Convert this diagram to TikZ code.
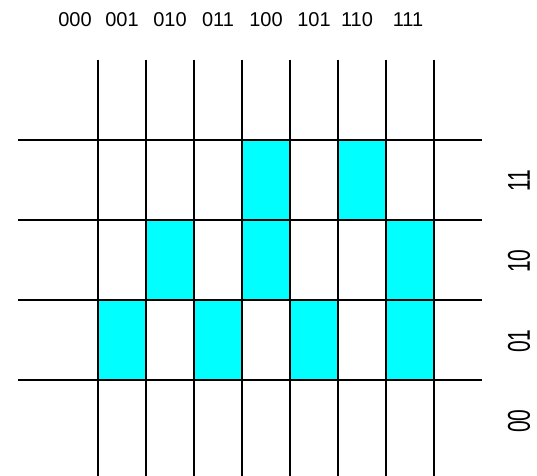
\documentclass[tikz,border=0pt]{standalone}
\usepackage{fontspec}
\setmainfont{Liberation Sans}
\definecolor{kcyan}{RGB}{0,255,255}
\tikzset{
  gridline/.style={draw=black,line width=0.75pt},
  oncell/.style={fill=kcyan},
  collbl/.style={font=\fontsize{10}{12}\selectfont,anchor=base,inner sep=0pt},
  rowlbl/.style={font=\fontsize{10.5}{12}\selectfont,rotate=90,yscale=1.5,inner sep=0pt},
}
\begin{document}
\begin{tikzpicture}[x=0.5pt,y=-0.5pt]
\useasboundingbox (0,0) rectangle (537,476);
% cells set to 1
\foreach \cx/\cy in {98/300,194/300,290/300,386/300,146/220,242/220,386/220,242/140,338/140}
  \fill[oncell] (\cx,\cy) rectangle ++(48,80);
% grid
\foreach \gx in {98,146,...,434}
  \draw[gridline] (\gx,60) -- (\gx,476);
\foreach \gy in {140,220,300,380}
  \draw[gridline] (18,\gy) -- (482,\gy);
% column labels
\foreach \lbl/\lx in {000/75,001/122,010/170,011/218,100/266,101/314,110/357,111/408}
  \node[collbl] (c\lbl) at (\lx,27) {\lbl};
% row labels
\foreach \lbl/\ly in {11/181,10/261,01/341,00/421}
  \node[rowlbl] (r\lbl) at (519,\ly) {\lbl};
\end{tikzpicture}
\end{document}
